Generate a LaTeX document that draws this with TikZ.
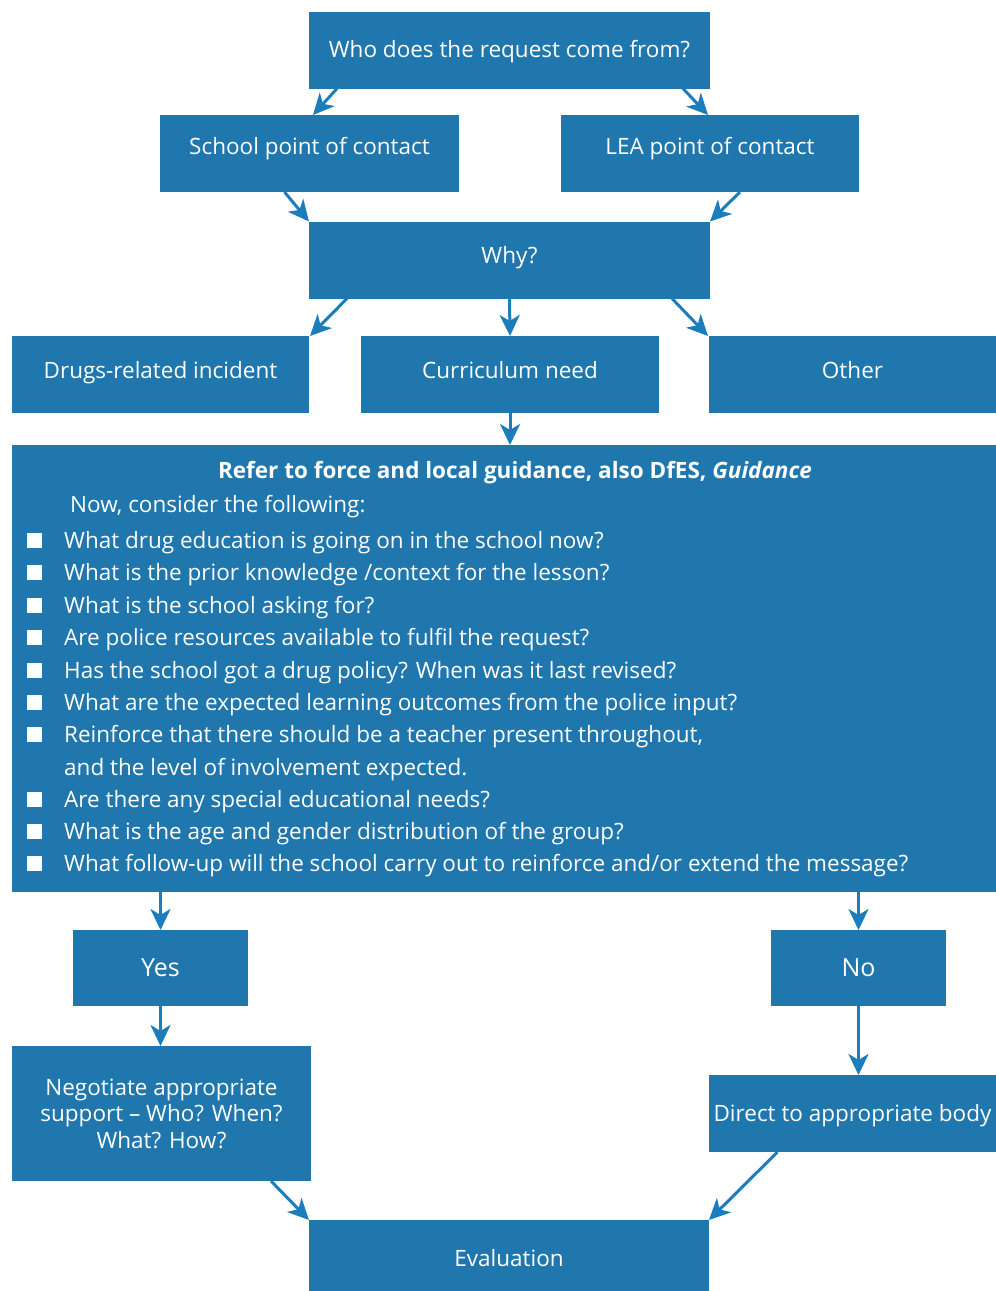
\documentclass[tikz,border=0pt]{standalone}
\usepackage{fontspec}
\setmainfont{Open Sans}
\usepackage{tikz}
\tikzset{>=latex}
\usetikzlibrary{arrows.meta,calc,positioning}
\definecolor{boxblue}{RGB}{31,119,173}
\definecolor{arrowblue}{RGB}{27,125,188}
\tikzset{
  box/.style={fill=boxblue, text=white, minimum height=77pt, inner sep=0pt, outer sep=0pt,
    font=\fontsize{22.5}{27}\selectfont, text height=18pt, text depth=3pt},
  link/.style={-{Stealth[length=21pt,width=20pt,inset=6pt]}, draw=arrowblue, line width=3pt},
  item/.style={text=white, anchor=base west, inner sep=0pt, font=\fontsize{22.5}{27}\selectfont},
}

\begin{document}
\begin{tikzpicture}[x=1pt,y=-1pt]
                    \useasboundingbox (0,0) rectangle (996,1291);
                    % top part
                    \node[box, minimum width=401pt] (source) at (509.5,50) {Who does the request come from?};
                    \node[box, minimum width=299pt, text depth=16pt] (school) at (309.5,153.5) {School point of contact};
                    \node[box, minimum width=298pt, text depth=16pt] (lea) at (710,153.5) {LEA point of contact};
                    \node[box, minimum width=401pt, text depth=11pt] (why) at (509.5,260) {Why?};
                    \node[box, minimum width=297pt, text depth=10pt] (drugs) at (160.5,374.5) {Drugs-related incident};
                    \node[box, minimum width=298pt, text depth=10pt] (curric) at (510,374.5) {Curriculum need};
                    \node[box, minimum width=287pt, text depth=10pt] (other) at (852.5,374.5) {Other};
                    % guidance box
                    \node[box, minimum width=984pt, minimum height=447pt] (guide) at (504,668.5) {};
                    \node[item, anchor=base, font=\fontsize{22.5}{27}\selectfont\bfseries] (title) at (515,478) {Refer to force and local guidance, also DfES, \textit{Guidance}};
                    \node[item] (now) at (70,512) {Now, consider the following:};
                    \foreach \y/\t in {540/{What drug education is going on in the school now?},
                        572/{What is the prior knowledge /context for the lesson?},
                        605/{What is the school asking for?},
                        637/{Are police resources available to fulfil the request?},
                        670/{Has the school got a drug policy? When was it last revised?},
                        702/{What are the expected learning outcomes from the police input?},
                        734/{Reinforce that there should be a teacher present throughout,},
                        799/{Are there any special educational needs?},
                        831/{What is the age and gender distribution of the group?},
                        863/{What follow-up will the school carry out to reinforce and/or extend the message?}}{
                      \fill[white] (27,\y-7.5) rectangle (42,\y+7.5);
                      \node[item] at (64,\y+8) {\t};
                    }
                    \node[item] (cont) at (64,775) {and the level of involvement expected.};
                    % bottom part
                    \node[box, minimum width=175pt, minimum height=76pt, font=\fontsize{25}{30}\selectfont, text height=20pt, text depth=3.4pt] (yes) at (160.5,968) {Yes};
                    \node[box, minimum width=175pt, minimum height=76pt, font=\fontsize{25}{30}\selectfont, text height=20pt, text depth=3.4pt] (no) at (858.5,968) {No};
                    \node[box, minimum width=299pt, minimum height=135pt, align=center, text height=, text depth=, font=\fontsize{22.5}{26.5}\selectfont] (negot) at (161.5,1113.5) {Negotiate appropriate\\support -- Who? When?\\What? How?};
                    \node[box, minimum width=287pt, text depth=2pt] (direct) at (852.5,1113.5) {Direct to appropriate body};
                    \node[box, minimum width=400pt, minimum height=71pt, text height=22pt, text depth=0pt] (eval) at (509,1255.5) {Evaluation};
                    % connectors
                    \draw[link] ([xshift=28pt]source.south west) -- ([xshift=3.5pt]school.north);
                    \draw[link] ([xshift=-27pt]source.south east) -- ([xshift=-2pt]lea.north);
                    \draw[link] ([xshift=-25pt]school.south) -- (why.north west);
                    \draw[link] ([xshift=30pt]lea.south) -- (why.north east);
                    \draw[link] ([xshift=38pt]why.south west) -- ([xshift=1pt]drugs.north east);
                    \draw[link] (why.south) -- (curric.north);
                    \draw[link] ([xshift=-38pt]why.south east) -- ([xshift=-1pt]other.north west);
                    \draw[link] (curric.south) -- (curric.south |- guide.north);
                    \draw[link] (yes.north |- guide.south) -- (yes.north);
                    \draw[link] (no.north |- guide.south) -- (no.north);
                    \draw[link] (yes.south) -- (yes.south |- negot.north);
                    \draw[link] (no.south) -- (no.south |- direct.north);
                    \draw[link] ([xshift=-40pt]negot.south east) -- (eval.north west);
                    \draw[link] ([xshift=-75pt]direct.south) -- (eval.north east);
                \end{tikzpicture}
\end{document}
